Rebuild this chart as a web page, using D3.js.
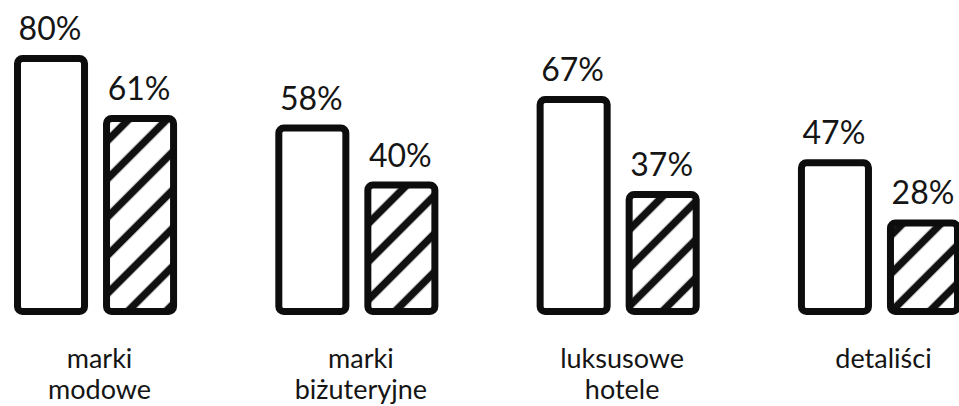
<!DOCTYPE html>
<html>
<head>
<meta charset="utf-8">
<script src="https://cdn.jsdelivr.net/npm/d3@7"></script>
<style>
  html, body { margin: 0; padding: 0; background: #fff; }
  svg { display: block; }
</style>
</head>
<body>
<svg id="chart" width="959" height="406"></svg>
<script>
const categories = [["marki", "modowe"], ["marki", "bi\u017Cuteryjne"], ["luksusowe", "hotele"], ["detali\u015Bci"]];
const categoryKeys = ["marki modowe", "marki bi\u017Cuteryjne", "luksusowe hotele", "detali\u015Bci"];
const seriesNames = ["A", "B"];
const seriesA = [80, 58, 67, 47];
const seriesB = [61, 40, 37, 28];
const valueLabelsA = ["80%", "58%", "67%", "47%"];
const valueLabelsB = ["61%", "40%", "37%", "28%"];

const svg = d3.select("#chart");
const sw = 7;

const defs = svg.append("defs");
const pat = defs.append("pattern")
  .attr("id", "hatch")
  .attr("patternUnits", "userSpaceOnUse")
  .attr("width", 27).attr("height", 27)
  .attr("patternTransform", "rotate(45)");
pat.append("rect").attr("width", 27).attr("height", 27).attr("fill", "#fff");
pat.append("line").attr("x1", 13.5).attr("x2", 13.5).attr("y1", -2).attr("y2", 29)
  .attr("stroke", "#111").attr("stroke-width", 7.5);

const x0 = d3.scaleBand().domain(categoryKeys).range([14, 961]).paddingInner(0.376).paddingOuter(0);
const x1 = d3.scaleBand().domain(seriesNames).range([0, x0.bandwidth()]).paddingInner(0.1685).paddingOuter(0);
const y = d3.scaleLinear().domain([0, 80]).range([311.5, 58.5]);

const data = [];
categoryKeys.forEach((c, i) => {
  data.push({cat: c, s: "A", v: seriesA[i], label: valueLabelsA[i]});
  data.push({cat: c, s: "B", v: seriesB[i], label: valueLabelsB[i]});
});

const g = svg.append("g");
g.selectAll("rect.bar").data(data).enter().append("rect")
  .attr("class", "bar")
  .attr("x", d => x0(d.cat) + x1(d.s) + sw / 2)
  .attr("width", x1.bandwidth() - sw)
  .attr("y", d => y(d.v))
  .attr("height", d => y(0) - y(d.v))
  .attr("rx", 5).attr("ry", 5)
  .attr("fill", d => d.s === "A" ? "#fff" : "url(#hatch)")
  .attr("stroke", "#0d0d0d")
  .attr("stroke-width", sw)
  .attr("stroke-linejoin", "round");

g.selectAll("text.val").data(data).enter().append("text")
  .attr("class", "val")
  .attr("x", d => x0(d.cat) + x1(d.s) + x1.bandwidth() / 2 - 1)
  .attr("y", d => y(d.v) - sw / 2 - 15)
  .attr("text-anchor", "middle")
  .attr("font-family", "Lato, 'Open Sans', sans-serif")
  .attr("font-size", 32)
  .attr("fill", "#151515")
  .text(d => d.label);

categories.forEach((lines, i) => {
  const cx = x0(categoryKeys[i]) + x0.bandwidth() / 2 + 4;
  lines.forEach((line, j) => {
    g.append("text")
      .attr("class", "cat")
      .attr("x", cx)
      .attr("y", 368 + j * 31)
      .attr("text-anchor", "middle")
      .attr("font-family", "Lato, 'Open Sans', sans-serif")
      .attr("font-size", 27)
      .attr("fill", "#151515")
      .text(line);
  });
});
</script>
</body>
</html>
